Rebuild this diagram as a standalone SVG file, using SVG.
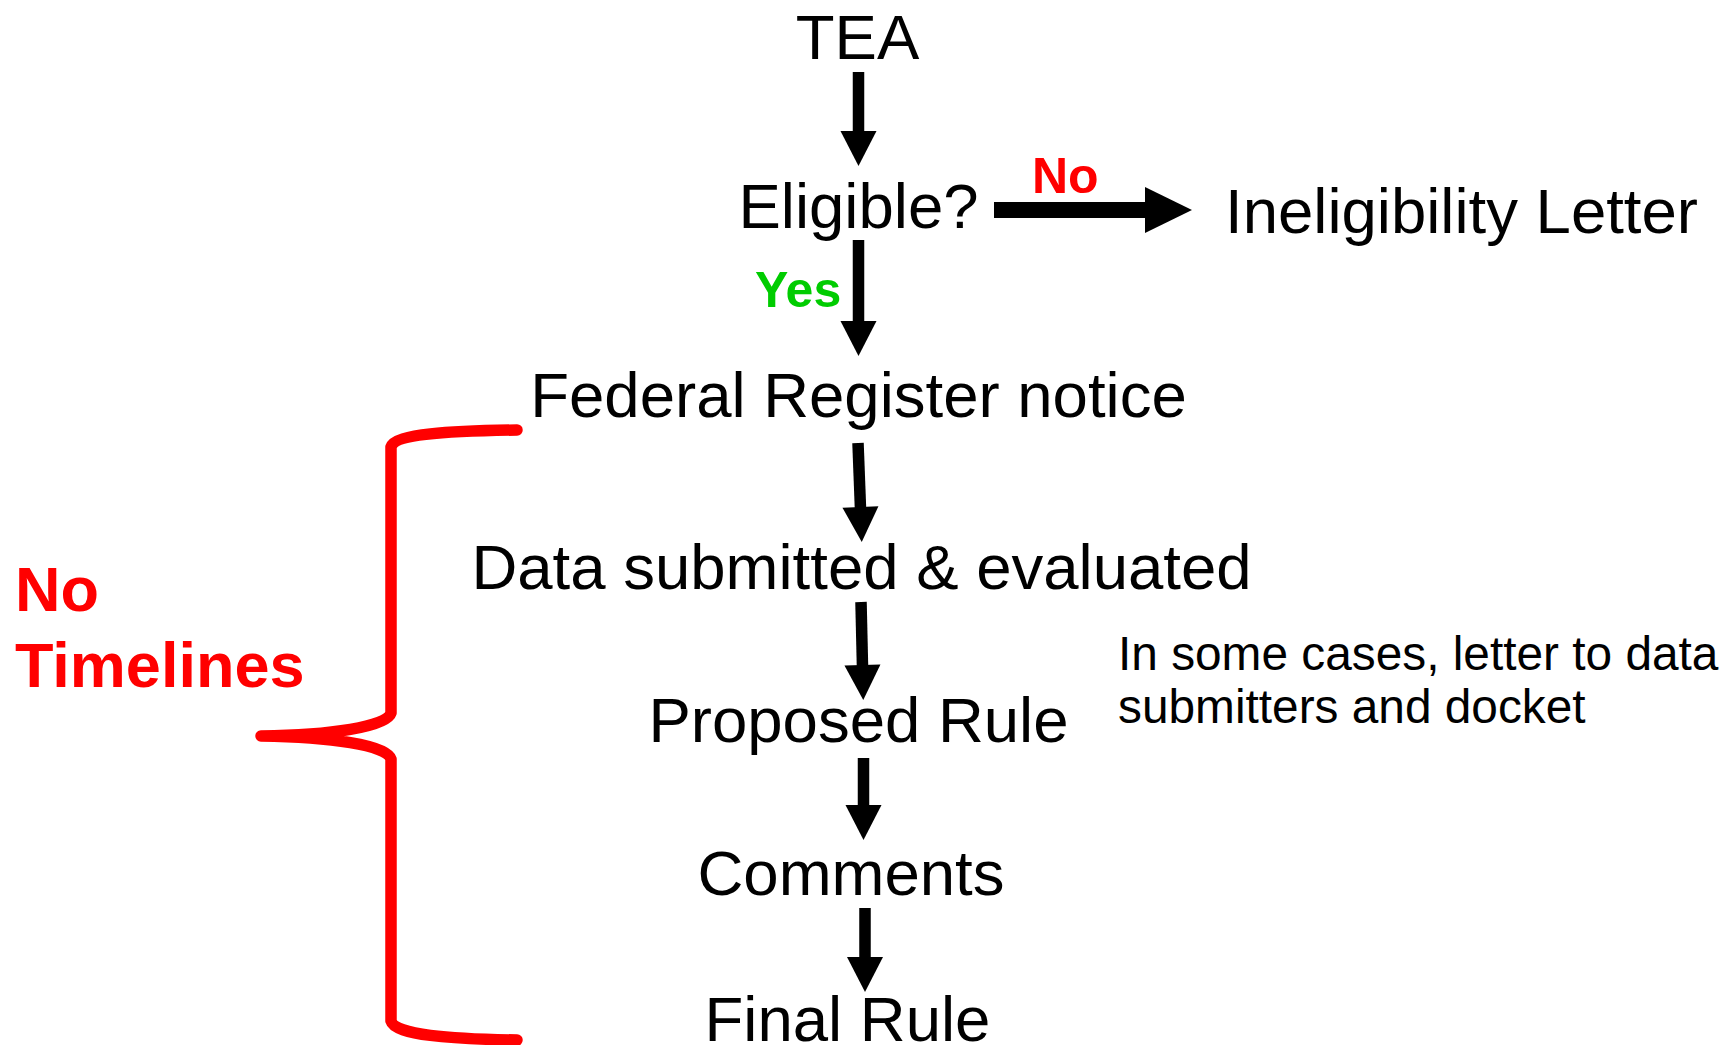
<svg xmlns="http://www.w3.org/2000/svg" width="1733" height="1045" viewBox="0 0 1733 1045">
<style>
.t{font-family:"Liberation Sans",Arial,sans-serif;font-size:63.5px;fill:#000}
.c{text-anchor:middle}
.b{font-family:"Liberation Sans",Arial,sans-serif;font-weight:bold}
.red{fill:#FF0000}
.grn{fill:#00CC00}
.s{font-family:"Liberation Sans",Arial,sans-serif;font-size:47.8px;fill:#000}
.shaft{stroke:#000;stroke-width:11.5;fill:none;marker-end:url(#ah)}
</style>
<defs>
<marker id="ah" markerUnits="userSpaceOnUse" markerWidth="36" markerHeight="36" refX="2" refY="18" orient="auto" overflow="visible">
<path d="M0,0 L35,18 L0,36 Z" fill="#000"/>
</marker>
<marker id="ahbig" markerUnits="userSpaceOnUse" markerWidth="48" markerHeight="46" refX="2" refY="23" orient="auto" overflow="visible">
<path d="M0,0 L47,23 L0,46 Z" fill="#000"/>
</marker>
</defs>
<rect width="1733" height="1045" fill="#fff"/>
<g id="connectors">
<line class="shaft" x1="858.5" y1="72" x2="858.5" y2="133"/>
<line class="shaft" x1="858.5" y1="240" x2="858.5" y2="323"/>
<line class="shaft" x1="858" y1="443" x2="860.5" y2="509"/>
<line class="shaft" x1="861" y1="602" x2="862.5" y2="667"/>
<line class="shaft" x1="863.5" y1="758" x2="863.5" y2="807"/>
<line class="shaft" x1="865" y1="908" x2="865" y2="959"/>
<line x1="994" y1="210" x2="1147" y2="210" stroke="#000" stroke-width="16" marker-end="url(#ahbig)"/>
<text class="b red" x="1032" y="193" font-size="50">No</text>
<text class="b grn" x="755" y="307" font-size="50">Yes</text>
</g>
<g id="node-tea"><text class="t c" x="857.5" y="59">TEA</text></g>
<g id="node-eligible"><text class="t c" x="858.5" y="228">Eligible?</text></g>
<g id="node-ineligibility"><text class="t" x="1225" y="233">Ineligibility Letter</text></g>
<g id="node-federal"><text class="t c" x="858.5" y="417">Federal Register notice</text></g>
<g id="node-data"><text class="t c" x="861.5" y="589">Data submitted &amp; evaluated</text></g>
<g id="node-proposed"><text class="t c" x="858.5" y="742">Proposed Rule</text></g>
<g id="node-note"><text class="s" x="1118" y="670">In some cases, letter to data</text><text class="s" x="1118" y="723">submitters and docket</text></g>
<g id="node-comments"><text class="t c" x="851" y="895">Comments</text></g>
<g id="node-final"><text class="t c" x="847.5" y="1041">Final Rule</text></g>
<g id="brace">
<path d="M517,430 C450,431 395,434 391,447 L391,713 C387,727 330,735 261,736 C330,737 387,745 391,759 L391,1021 C395,1035 450,1039 517,1040" fill="none" stroke="#FF0000" stroke-width="11.5" stroke-linecap="round" stroke-linejoin="round"/>
<text class="b red" x="15" y="611" font-size="63">No</text>
<text class="b red" x="15" y="687" font-size="63">Timelines</text>
</g>
</svg>
